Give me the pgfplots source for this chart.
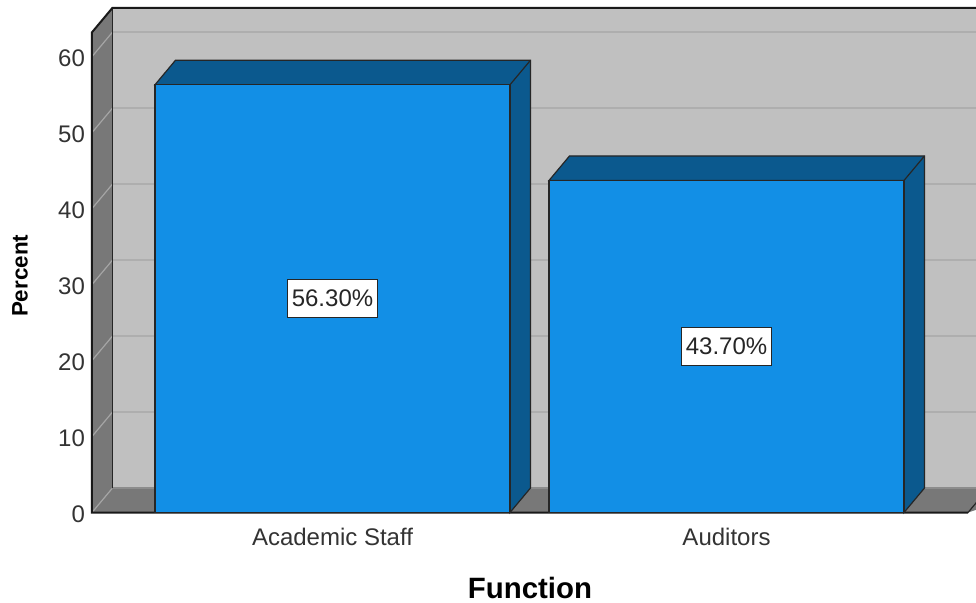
\documentclass[border=0pt]{standalone}
\usepackage{fontspec}
\setmainfont{Liberation Sans}
\usepackage{pgfplots}
\pgfplotsset{compat=1.18}
\usepackage{pgfplotstable}
\definecolor{barfront}{RGB}{18,143,230}
\definecolor{bardark}{RGB}{11,89,142}
\definecolor{wallback}{RGB}{192,192,192}
\definecolor{walldark}{RGB}{120,120,120}
\definecolor{gridc}{RGB}{174,174,174}
\definecolor{wallline}{RGB}{165,165,165}

\pgfplotstableread{
x y
0 56.3
1 43.7
}\datatable

\newcommand\B[2]{([shift={(10.25pt,12.25pt)}]axis cs:#1,#2)}

\begin{document}
\begin{tikzpicture}
\useasboundingbox (0,0) rectangle (488pt,301pt);
\pgfplotstablegetelem{0}{y}\of\datatable \global\let\valA\pgfplotsretval
\pgfplotstablegetelem{1}{y}\of\datatable \global\let\valB\pgfplotsretval
\def\xl{-0.6104}\def\xr{1.613}\def\xf{1.75}\def\yt{63.2}
\begin{axis}[
  at={(46pt,44.75pt)}, anchor=south west,
  scale only axis, width=442pt, height=252.25pt,
  xmin=-0.6104, xmax=1.6332, ymin=0, ymax=66.4,
  clip=false,
  axis line style={draw=none},
  major tick length=0pt,
  xtick={0,1}, xticklabels={Academic Staff, Auditors},
  ytick={0,10,...,60},
  /pgf/number format/assume math mode=true,
  tick label style={font=\fontsize{12}{14}\selectfont, text=black!80},
  xticklabel style={yshift=-4.5pt},
  yticklabel style={yshift=-1pt},
  xlabel={Function}, ylabel={Percent},
  xlabel style={at={(axis description cs:0.4955,-0.1497)}, anchor=center, font=\bfseries\fontsize{14.7}{17}\selectfont},
  ylabel style={at={(axis description cs:-0.0814,0.469)}, anchor=center, font=\bfseries\fontsize{11.2}{13}\selectfont},
]
% back wall
\fill[wallback] \B{\xl}{0} -- \B{\xl}{\yt} -- \B{\xf}{\yt} -- \B{\xf}{0} -- cycle;
% left wall
\fill[walldark] (axis cs:\xl,0) -- (axis cs:\xl,\yt) -- \B{\xl}{\yt} -- \B{\xl}{0} -- cycle;
% floor
\fill[walldark] (axis cs:\xl,0) -- \B{\xl}{0} -- \B{\xf}{0} -- (axis cs:\xr,0) -- cycle;
\pgfplotsinvokeforeach{10,20,30,40,50,60}{
  \draw[gridc, line width=0.8pt] \B{\xl}{#1} -- \B{\xf}{#1};
  \draw[wallline, line width=0.6pt] (axis cs:\xl,#1) -- \B{\xl}{#1};
}
\draw[wallline, line width=0.6pt] (axis cs:\xl,0) -- \B{\xl}{0};
\draw[black!45, line width=0.6pt] \B{\xl}{0} -- \B{\xf}{0};
\draw[black!85, line width=0.8pt] \B{\xl}{0} -- \B{\xl}{\yt};
\draw[black!90, line width=1pt] (axis cs:\xr,0) -- (axis cs:\xl,0) -- (axis cs:\xl,\yt) -- \B{\xl}{\yt} -- \B{\xf}{\yt};
\draw[black!85, line width=0.6pt] (axis cs:\xr,0) -- \B{\xr}{0};
% bar depth faces
\filldraw[fill=bardark, draw=black!85, line width=0.6pt] (axis cs:-0.4505,\valA) -- \B{-0.4505}{\valA} -- \B{0.4505}{\valA} -- \B{0.4505}{0} -- (axis cs:0.4505,0) -- (axis cs:0.4505,\valA) -- cycle;
\draw[black!85, line width=0.6pt] (axis cs:0.4505,\valA) -- \B{0.4505}{\valA};
\filldraw[fill=bardark, draw=black!85, line width=0.6pt] (axis cs:0.5495,\valB) -- \B{0.5495}{\valB} -- \B{1.4505}{\valB} -- \B{1.4505}{0} -- (axis cs:1.4505,0) -- (axis cs:1.4505,\valB) -- cycle;
\draw[black!85, line width=0.6pt] (axis cs:1.4505,\valB) -- \B{1.4505}{\valB};
% front faces
\addplot[ybar, bar width=0.901, bar shift=0pt, fill=barfront, draw=black!85, line width=0.6pt] table[x=x,y=y]{\datatable};
% labels
\addplot[draw=none, mark=none, point meta=explicit,
  nodes near coords={\pgfmathprintnumber[fixed,fixed zerofill,precision=2]{\pgfplotspointmeta}\%},
  nodes near coords style={anchor=center, fill=white, draw=black!85, line width=0.5pt, text=black!85,
    font=\fontsize{12}{14}\selectfont, inner xsep=2pt, minimum height=19pt}]
  table[x=x, y expr=\thisrow{y}/2, meta=y]{\datatable};
\end{axis}
\end{tikzpicture}
\end{document}
